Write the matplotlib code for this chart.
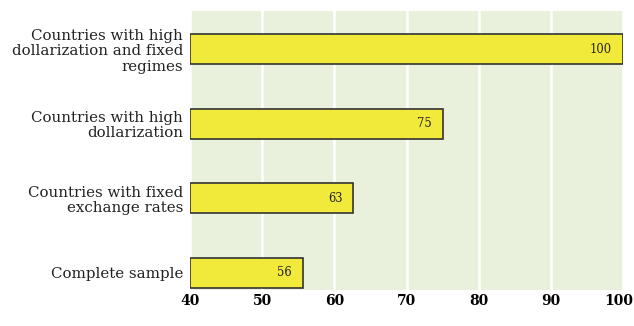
import matplotlib
matplotlib.use("Agg")
import matplotlib.pyplot as plt
import matplotlib.transforms as mtransforms

categories = ["Complete sample",
              "Countries with fixed\nexchange rates",
              "Countries with high\ndollarization",
              "Countries with high\ndollarization and fixed\nregimes"]
values = [55.6, 62.6, 75.0, 100.0]
value_labels = ["56", "63", "75", "100"]
xticks = [40, 50, 60, 70, 80, 90, 100]

plt.rcParams['font.family'] = ['DejaVu Serif']

fig = plt.figure(figsize=(6.34, 3.26), dpi=100)
ax = fig.add_axes([190/634, 1-290/326, (623-190)/634, (290-11)/326])
ax.set_facecolor('#e9f1dd')
ypos = list(range(len(categories)))
ax.barh(ypos, [v - 40 for v in values], left=40, height=0.40,
        color='#f2ea3a', edgecolor='#333333', linewidth=1.2, zorder=3)
for y, v, lab in zip(ypos, values, value_labels):
    ax.text(v - 1.5, y, lab, ha='right', va='center', fontsize=8.3,
            color='#222222', zorder=4)
ax.set_xlim(40, 100)
ax.set_ylim(-0.23, 3.51)
ax.set_xticks(xticks)
ax.set_xticklabels([str(t) for t in xticks], fontweight='bold', fontsize=10)
ax.set_yticks(ypos)
ax.set_yticklabels(categories, fontsize=10.8, color='#222222', linespacing=1.12)
ax.tick_params(length=0, pad=5)
ax.tick_params(axis='x', pad=3)
lastlab = ax.get_xticklabels()[-1]
lastlab.set_transform(lastlab.get_transform() +
                      mtransforms.ScaledTranslation(-0.04, 0, fig.dpi_scale_trans))
for s in ax.spines.values():
    s.set_visible(False)
ax.xaxis.grid(True, color='white', linewidth=1.8, zorder=1)
ax.set_axisbelow(True)
fig.savefig("out.png", dpi=100)
